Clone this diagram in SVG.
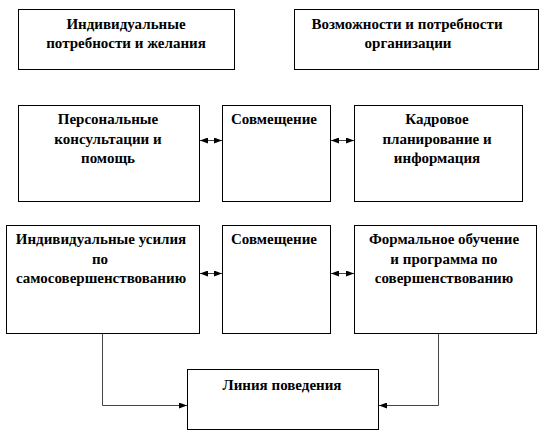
<svg xmlns="http://www.w3.org/2000/svg" width="543" height="433" viewBox="0 0 543 433">
<style>
rect{fill:#fff;stroke:#000;stroke-width:1}
text{font-family:"Liberation Serif","Times New Roman",serif;font-weight:bold;font-size:15px;fill:#000;text-anchor:middle}
.c{fill:none;stroke:#444;stroke-width:1}
</style>
<defs>
<marker id="a" viewBox="0 0 8 6" refX="8" refY="3" markerWidth="8" markerHeight="6" markerUnits="userSpaceOnUse" orient="auto-start-reverse"><path d="M0,0L8,3L0,6z" fill="#000"/></marker>
</defs>
<rect x="0" y="0" width="543" height="433" style="stroke:none"/>
<g id="n1"><rect x="18.5" y="9.5" width="216" height="60"/><text x="126" y="29">Индивидуальные</text><text x="126" y="48">потребности и желания</text></g>
<g id="n2"><rect x="294.5" y="9.5" width="244" height="60"/><text x="407" y="29">Возможности и потребности</text><text x="408" y="48">организации</text></g>
<g id="n3"><rect x="18.5" y="105.5" width="181" height="96"/><text x="108" y="124">Персональные</text><text x="108" y="144">консультации и</text><text x="108" y="163">помощь</text></g>
<g id="n4"><rect x="222.5" y="105.5" width="108" height="96"/><text x="274" y="124">Совмещение</text></g>
<g id="n5"><rect x="354.5" y="105.5" width="168" height="96"/><text x="437" y="124">Кадровое</text><text x="437" y="144">планирование и</text><text x="437" y="163">информация</text></g>
<g id="n6"><rect x="6.5" y="225.5" width="193" height="108"/><text x="101" y="244">Индивидуальные усилия</text><text x="100" y="264">по</text><text x="101" y="283">самосовершенствованию</text></g>
<g id="n7"><rect x="222.5" y="225.5" width="108" height="108"/><text x="274" y="244">Совмещение</text></g>
<g id="n8"><rect x="354.5" y="225.5" width="182" height="108"/><text x="444" y="244">Формальное обучение</text><text x="444" y="264">и программа по</text><text x="444" y="283">совершенствованию</text></g>
<g id="n9"><rect x="187.5" y="369.5" width="191" height="60"/><text x="282" y="390">Линия поведения</text></g>
<g id="connectors">
<path class="c" d="M200,140.5H222" marker-start="url(#a)" marker-end="url(#a)"/>
<path class="c" d="M331,140.5H354" marker-start="url(#a)" marker-end="url(#a)"/>
<path class="c" d="M200,273.5H222" marker-start="url(#a)" marker-end="url(#a)"/>
<path class="c" d="M331,273.5H354" marker-start="url(#a)" marker-end="url(#a)"/>
<path class="c" d="M102.5,334V405.5H187" marker-end="url(#a)"/>
<path class="c" d="M438.5,334V405.5H379" marker-end="url(#a)"/>
</g>
</svg>
